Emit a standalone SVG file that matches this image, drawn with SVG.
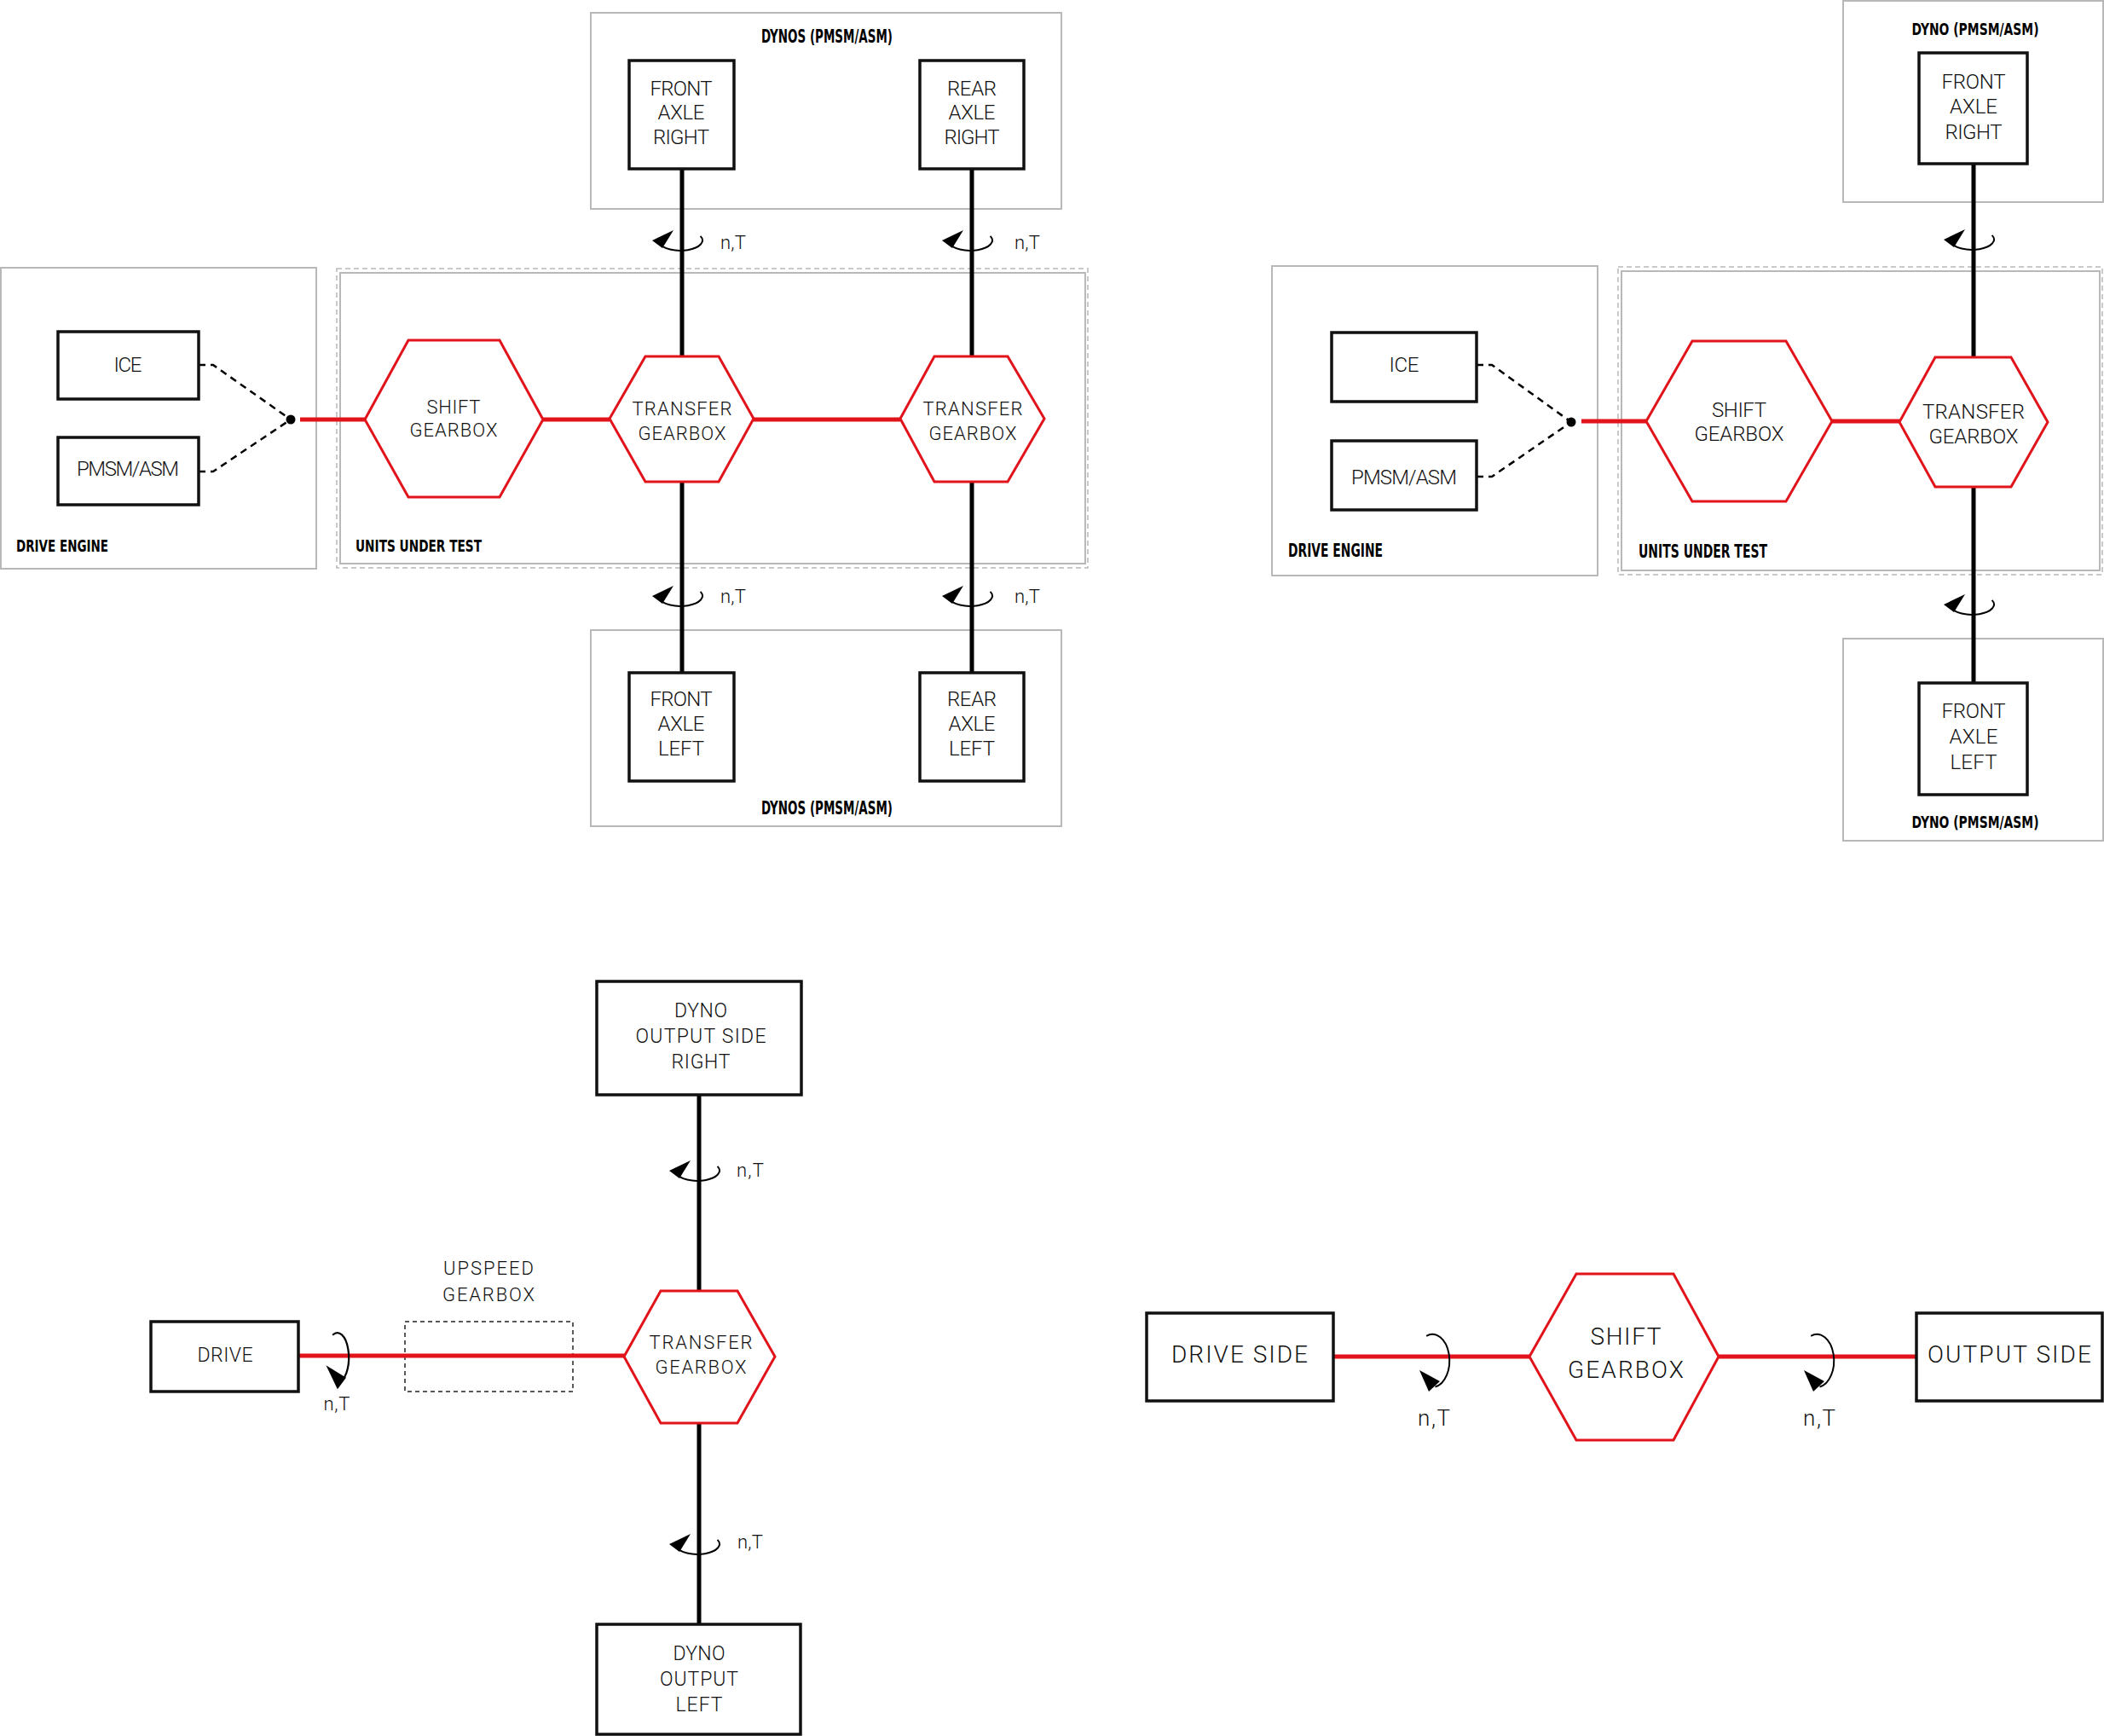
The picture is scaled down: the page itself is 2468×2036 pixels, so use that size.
<svg xmlns="http://www.w3.org/2000/svg" xmlns:xlink="http://www.w3.org/1999/xlink" width="2468" height="2036" viewBox="0 0 2468 2036">
<style>
.bg{fill:#fff}
.cont{fill:none;stroke:#b8b8b8;stroke-width:2}
.uut{fill:none;stroke:#b8b8b8;stroke-width:1.5;stroke-dasharray:6 4}
.box{fill:#fff;stroke:#111;stroke-width:3.5}
.hex{fill:#fff;stroke:#e1131b;stroke-width:3}
.shaft{stroke:#000;stroke-width:5;fill:none}
.red{stroke:#e1131b;stroke-width:5;fill:none}
.dash{stroke:#000;stroke-width:2.5;stroke-dasharray:8 6;fill:none}
.updash{fill:none;stroke:#222;stroke-width:1.5;stroke-dasharray:5 4}
.t{font-family:Roboto,"Liberation Sans",sans-serif;font-weight:300;fill:#111;text-anchor:middle}
.s{font-family:Roboto,"Liberation Sans",sans-serif;font-weight:300;fill:#111}
.lbl{font-family:"DejaVu Sans Condensed","DejaVu Sans","Liberation Sans",sans-serif;font-weight:bold;fill:#000}
.rarc{fill:none;stroke:#000;stroke-width:2}
</style>
<defs>
<g id="rot"><path class="rarc" d="M21.6,-6.1 A26 12 0 1 1 -27.1,2.1"/><polygon points="-10,-13 -35,-1 -23,8" fill="#000"/></g>
<g id="rotB"><path class="rarc" d="M27.1,-6.8 A31 20 0 1 1 -32.5,3.5"/><polygon points="-13,-15 -38,-4 -26,9" fill="#000"/></g>
</defs>
<rect class="bg" x="0" y="0" width="2468" height="2036"/>

<!-- containers -->
<g id="containers">
<rect class="cont" x="1" y="314" width="370" height="353"/>
<rect class="uut" x="395" y="315" width="881" height="351"/>
<rect class="cont" x="399" y="320" width="874" height="341"/>
<rect class="cont" x="693" y="15" width="552" height="230"/>
<rect class="cont" x="693" y="739" width="552" height="230"/>
<rect class="cont" x="1492" y="312" width="382" height="363"/>
<rect class="uut" x="1898" y="313" width="568" height="361"/>
<rect class="cont" x="1902" y="318" width="561" height="351"/>
<rect class="cont" x="2162" y="1" width="305" height="236"/>
<rect class="cont" x="2162" y="749" width="305" height="237"/>
<text class="lbl" x="970" y="50" font-size="21" text-anchor="middle" textLength="154" lengthAdjust="spacingAndGlyphs">DYNOS (PMSM/ASM)</text>
<text class="lbl" x="970" y="955" font-size="21" text-anchor="middle" textLength="154" lengthAdjust="spacingAndGlyphs">DYNOS (PMSM/ASM)</text>
<text class="lbl" x="19" y="647" font-size="20" textLength="108" lengthAdjust="spacingAndGlyphs">DRIVE ENGINE</text>
<text class="lbl" x="417" y="647" font-size="20" textLength="148" lengthAdjust="spacingAndGlyphs">UNITS UNDER TEST</text>
<text class="lbl" x="2317" y="41" font-size="20" text-anchor="middle" textLength="149" lengthAdjust="spacingAndGlyphs">DYNO (PMSM/ASM)</text>
<text class="lbl" x="2317" y="971" font-size="20" text-anchor="middle" textLength="149" lengthAdjust="spacingAndGlyphs">DYNO (PMSM/ASM)</text>
<text class="lbl" x="1511" y="653" font-size="21" textLength="111" lengthAdjust="spacingAndGlyphs">DRIVE ENGINE</text>
<text class="lbl" x="1922" y="654" font-size="21" textLength="151" lengthAdjust="spacingAndGlyphs">UNITS UNDER TEST</text>
<rect class="updash" x="475" y="1550" width="197" height="82"/>
<text class="t" x="573" y="1495" font-size="22" textLength="106">UPSPEED</text>
<text class="t" x="573" y="1526" font-size="22" textLength="108">GEARBOX</text>
</g>

<!-- connectors -->
<g id="connectors">
<path class="dash" d="M233,428 H250 L341,492"/>
<path class="dash" d="M233,553 H250 L341,492"/>
<circle cx="341" cy="492" r="5.5" fill="#000"/>
<path class="red" d="M352,492 H428 M637,492 H715 M884,492 H1056"/>
<path class="shaft" d="M800,198 V418 M800,565 V789 M1140,198 V418 M1140,565 V789"/>
<use href="#rot" x="800" y="283"/>
<use href="#rot" x="1140" y="283"/>
<use href="#rot" x="800" y="700"/>
<use href="#rot" x="1140" y="700"/>
<text class="s" x="845" y="292" font-size="22" textLength="30">n,T</text>
<text class="s" x="1190" y="292" font-size="22" textLength="30">n,T</text>
<text class="s" x="845" y="707" font-size="22" textLength="30">n,T</text>
<text class="s" x="1190" y="707" font-size="22" textLength="30">n,T</text>

<path class="dash" d="M1732,428 H1750 L1843,495"/>
<path class="dash" d="M1732,559 H1750 L1843,495"/>
<circle cx="1843" cy="495" r="5.5" fill="#000"/>
<path class="red" d="M1855,494 H1931 M2149,494 H2228"/>
<path class="shaft" d="M2315,192 V419 M2315,571 V801"/>
<use href="#rot" x="2315" y="282"/>
<use href="#rot" x="2315" y="710"/>

<path class="red" d="M350,1590 H732"/>
<path class="shaft" d="M820,1284 V1514 M820,1669 V1905"/>
<use href="#rot" x="820" y="1374"/>
<use href="#rot" x="820" y="1812"/>
<use href="#rot" transform="translate(397,1590) rotate(-90) scale(1.12)"/>
<text class="s" x="864" y="1380" font-size="22" textLength="32">n,T</text>
<text class="s" x="865" y="1816" font-size="22" textLength="30">n,T</text>
<text class="t" x="395" y="1654" font-size="22" textLength="31">n,T</text>

<path class="red" d="M1564,1591 H1794 M2016,1591 H2248"/>
<use href="#rotB" transform="translate(1680,1594) rotate(-90)"/>
<use href="#rotB" transform="translate(2131,1594) rotate(-90)"/>
<text class="t" x="1682" y="1672" font-size="26" textLength="38">n,T</text>
<text class="t" x="2134" y="1672" font-size="26" textLength="38">n,T</text>
</g>

<!-- top-left nodes -->
<g id="tl-ice"><rect class="box" x="68" y="389" width="165" height="79"/><text class="t" x="150" y="436" font-size="24" textLength="33">ICE</text></g>
<g id="tl-pmsm"><rect class="box" x="68" y="513" width="165" height="79"/><text class="t" x="150" y="558" font-size="24" textLength="120">PMSM/ASM</text></g>
<g id="tl-shift"><polygon class="hex" points="428,492 479,399 586,399 637,492 586,583 479,583"/><text class="t" x="532" y="485" font-size="22" textLength="63">SHIFT</text><text class="t" x="532" y="512" font-size="22" textLength="103">GEARBOX</text></g>
<g id="tl-transfer1"><polygon class="hex" points="715,491 757,418 843,418 884,491 843,565 757,565"/><text class="t" x="800" y="487" font-size="22" textLength="117">TRANSFER</text><text class="t" x="800" y="516" font-size="22" textLength="103">GEARBOX</text></g>
<g id="tl-transfer2"><polygon class="hex" points="1056,491 1096,418 1182,418 1225,491 1182,565 1096,565"/><text class="t" x="1141" y="487" font-size="22" textLength="117">TRANSFER</text><text class="t" x="1141" y="516" font-size="22" textLength="103">GEARBOX</text></g>
<g id="tl-far"><rect class="box" x="738" y="71" width="123" height="127"/><text class="t" x="799" y="112" font-size="24" textLength="73">FRONT</text><text class="t" x="799" y="140" font-size="24" textLength="55">AXLE</text><text class="t" x="799" y="169" font-size="24" textLength="66">RIGHT</text></g>
<g id="tl-rar"><rect class="box" x="1079" y="71" width="122" height="127"/><text class="t" x="1140" y="112" font-size="24" textLength="58">REAR</text><text class="t" x="1140" y="140" font-size="24" textLength="55">AXLE</text><text class="t" x="1140" y="169" font-size="24" textLength="65">RIGHT</text></g>
<g id="tl-fal"><rect class="box" x="738" y="789" width="123" height="127"/><text class="t" x="799" y="828" font-size="24" textLength="73">FRONT</text><text class="t" x="799" y="857" font-size="24" textLength="55">AXLE</text><text class="t" x="799" y="886" font-size="24" textLength="54">LEFT</text></g>
<g id="tl-ral"><rect class="box" x="1079" y="789" width="122" height="127"/><text class="t" x="1140" y="828" font-size="24" textLength="58">REAR</text><text class="t" x="1140" y="857" font-size="24" textLength="55">AXLE</text><text class="t" x="1140" y="886" font-size="24" textLength="54">LEFT</text></g>

<!-- top-right nodes -->
<g id="tr-ice"><rect class="box" x="1562" y="390" width="170" height="81"/><text class="t" x="1647" y="436" font-size="24" textLength="35">ICE</text></g>
<g id="tr-pmsm"><rect class="box" x="1562" y="517" width="170" height="81"/><text class="t" x="1647" y="568" font-size="24" textLength="124">PMSM/ASM</text></g>
<g id="tr-shift"><polygon class="hex" points="1931,494 1985,400 2095,400 2149,494 2095,588 1985,588"/><text class="t" x="2040" y="489" font-size="24" textLength="64">SHIFT</text><text class="t" x="2040" y="517" font-size="24" textLength="105">GEARBOX</text></g>
<g id="tr-transfer"><polygon class="hex" points="2228,495 2270,419 2359,419 2402,495 2359,571 2270,571"/><text class="t" x="2315" y="491" font-size="24" textLength="120">TRANSFER</text><text class="t" x="2315" y="520" font-size="24" textLength="105">GEARBOX</text></g>
<g id="tr-far"><rect class="box" x="2251" y="62" width="127" height="130"/><text class="t" x="2315" y="104" font-size="24" textLength="75">FRONT</text><text class="t" x="2315" y="133" font-size="24" textLength="56">AXLE</text><text class="t" x="2315" y="163" font-size="24" textLength="67">RIGHT</text></g>
<g id="tr-fal"><rect class="box" x="2251" y="801" width="127" height="131"/><text class="t" x="2315" y="842" font-size="24" textLength="75">FRONT</text><text class="t" x="2315" y="872" font-size="24" textLength="57">AXLE</text><text class="t" x="2315" y="902" font-size="24" textLength="55">LEFT</text></g>

<!-- bottom-left nodes -->
<g id="bl-dyno-right"><rect class="box" x="700" y="1151" width="240" height="133"/><text class="t" x="822" y="1193" font-size="23" textLength="62">DYNO</text><text class="t" x="822" y="1223" font-size="23" textLength="153">OUTPUT SIDE</text><text class="t" x="822" y="1253" font-size="23" textLength="69">RIGHT</text></g>
<g id="bl-drive"><rect class="box" x="177" y="1550" width="173" height="82"/><text class="t" x="264" y="1597" font-size="23" textLength="65">DRIVE</text></g>
<g id="bl-transfer"><polygon class="hex" points="732,1591 775,1514 865,1514 909,1591 865,1669 775,1669"/><text class="t" x="822" y="1582" font-size="22" textLength="121">TRANSFER</text><text class="t" x="822" y="1611" font-size="22" textLength="107">GEARBOX</text></g>
<g id="bl-dyno-left"><rect class="box" x="700" y="1905" width="239" height="129"/><text class="t" x="820" y="1947" font-size="23" textLength="61">DYNO</text><text class="t" x="820" y="1977" font-size="23" textLength="92">OUTPUT</text><text class="t" x="820" y="2007" font-size="23" textLength="55">LEFT</text></g>

<!-- bottom-right nodes -->
<g id="br-drive"><rect class="box" x="1345" y="1540" width="219" height="103"/><text class="t" x="1454" y="1598" font-size="28" textLength="160">DRIVE SIDE</text></g>
<g id="br-shift"><polygon class="hex" points="1794,1591 1849,1494 1963,1494 2016,1591 1963,1689 1849,1689"/><text class="t" x="1907" y="1577" font-size="28" textLength="83">SHIFT</text><text class="t" x="1907" y="1616" font-size="28" textLength="136">GEARBOX</text></g>
<g id="br-output"><rect class="box" x="2248" y="1540" width="218" height="103"/><text class="t" x="2357" y="1598" font-size="28" textLength="192">OUTPUT SIDE</text></g>
</svg>
